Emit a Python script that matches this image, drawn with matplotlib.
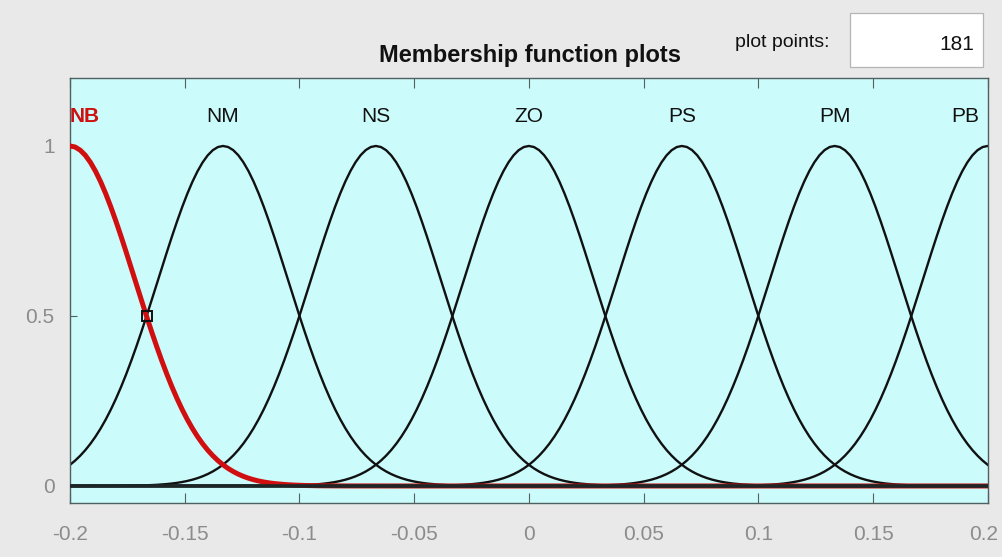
import matplotlib

matplotlib.use("Agg", force=True)

import matplotlib.pyplot as plt
import numpy as np
from matplotlib.patches import Rectangle

# Gaussian membership functions on [-0.2, 0.2]
NAMES = ["NB", "NM", "NS", "ZO", "PS", "PM", "PB"]
CENTERS = [-0.2, -0.1333, -0.0667, 0.0, 0.0667, 0.1333, 0.2]
SIGMAS = [0.0283, 0.0283, 0.0283, 0.0283, 0.0283, 0.0283, 0.0283]
SELECTED = 0
N_POINTS = 181
X_RANGE = (-0.2, 0.2)
X_TICKS = [-0.2, -0.15, -0.1, -0.05, 0, 0.05, 0.1, 0.15, 0.2]
X_TICK_LABELS = ["-0.2", "-0.15", "-0.1", "-0.05", "0", "0.05", "0.1", "0.15", "0.2"]
Y_TICKS = [0, 0.5, 1]
Y_TICK_LABELS = ["0", "0.5", "1"]

BG = "#e9e9e9"
AXBG = "#cbfbfb"
GRAY = "#8c8c8c"
FONT = "Liberation Sans"

fig = plt.figure(figsize=(10.03, 5.57), dpi=100, facecolor=BG)
ax = fig.add_axes([0.0698, 0.097, 0.915, 0.763], facecolor=AXBG)

x = np.linspace(X_RANGE[0], X_RANGE[1], N_POINTS)
for i, (c, s) in enumerate(zip(CENTERS, SIGMAS)):
    if i == SELECTED:
        continue
    y = np.exp(-((x - c) ** 2) / (2 * s ** 2))
    ax.plot(x, y, color="#111111", lw=1.7, zorder=2)

c, s = CENTERS[SELECTED], SIGMAS[SELECTED]
y_sel = np.exp(-((x - c) ** 2) / (2 * s ** 2))
ax.plot(x, y_sel, color="#d01010", lw=3.6, zorder=3)
# dark baseline where all the tails sit on zero
ax.plot(x, np.zeros_like(x), color="#1c2626", lw=2.6, zorder=3)

# marker at the crossing with the neighbour
xm = (CENTERS[0] + CENTERS[1]) / 2
ym = np.exp(-((xm - c) ** 2) / (2 * s ** 2))
ax.plot([xm], [ym], marker="s", ms=7.5, mfc="none", mec="#111111", mew=1.4, zorder=4)

for i, (name, cx) in enumerate(zip(NAMES, CENTERS)):
    ha, dx = "center", 0
    if i == 0:
        ha = "left"
    elif i == len(NAMES) - 1:
        ha, dx = "right", -6
    ax.annotate(name, (cx, 1.088), xytext=(dx, 0), textcoords="offset points",
                ha=ha, va="center", fontsize=15,
                color="#d01010" if i == SELECTED else "#111111",
                fontweight="bold" if i == SELECTED else "normal",
                family=FONT)

ax.set_xlim(*X_RANGE)
ax.set_ylim(-0.05, 1.2)
ax.set_xticks(X_TICKS)
# the last label is drawn by hand a little to the left so it stays on the canvas
ax.set_xticklabels(X_TICK_LABELS[:-1] + [""])
ax.set_yticks(Y_TICKS)
ax.set_yticklabels(Y_TICK_LABELS)
ax.tick_params(axis="x", direction="in", top=True, length=7, width=0.8,
               color="#556060", labelcolor=GRAY, labelsize=15, pad=16)
ax.tick_params(axis="y", direction="in", length=5, width=0.8, color="#556060",
               labelcolor=GRAY, labelsize=15, pad=11)
for lbl in ax.get_xticklabels() + ax.get_yticklabels():
    lbl.set_family(FONT)
for sp in ax.spines.values():
    sp.set_color("#506060")
    sp.set_linewidth(1.0)

ax.annotate(X_TICK_LABELS[-1], (X_TICKS[-1], 0), xycoords=("data", "axes fraction"),
            xytext=(-3, -16), textcoords="offset points", ha="center", va="top",
            fontsize=15, color=GRAY, family=FONT, annotation_clip=False)

fig.text(0.5285, 1 - 62 / 557, "Membership function plots", ha="center",
         va="baseline", fontsize=17, fontweight="bold", color="#111111", family=FONT)
fig.text(735 / 1003, 1 - 47 / 557, "plot points:", ha="left", va="baseline",
         fontsize=14, color="#111111", family=FONT)
fig.patches.append(Rectangle((850 / 1003, 1 - 67 / 557), 133 / 1003, 54 / 557,
                             transform=fig.transFigure, facecolor="white",
                             edgecolor="#b5b5b5", lw=0.9))
fig.text(974 / 1003, 1 - 50 / 557, str(N_POINTS), ha="right", va="baseline",
         fontsize=15, color="#111111", family=FONT)

fig.savefig("out.png", dpi=100, facecolor=BG)
